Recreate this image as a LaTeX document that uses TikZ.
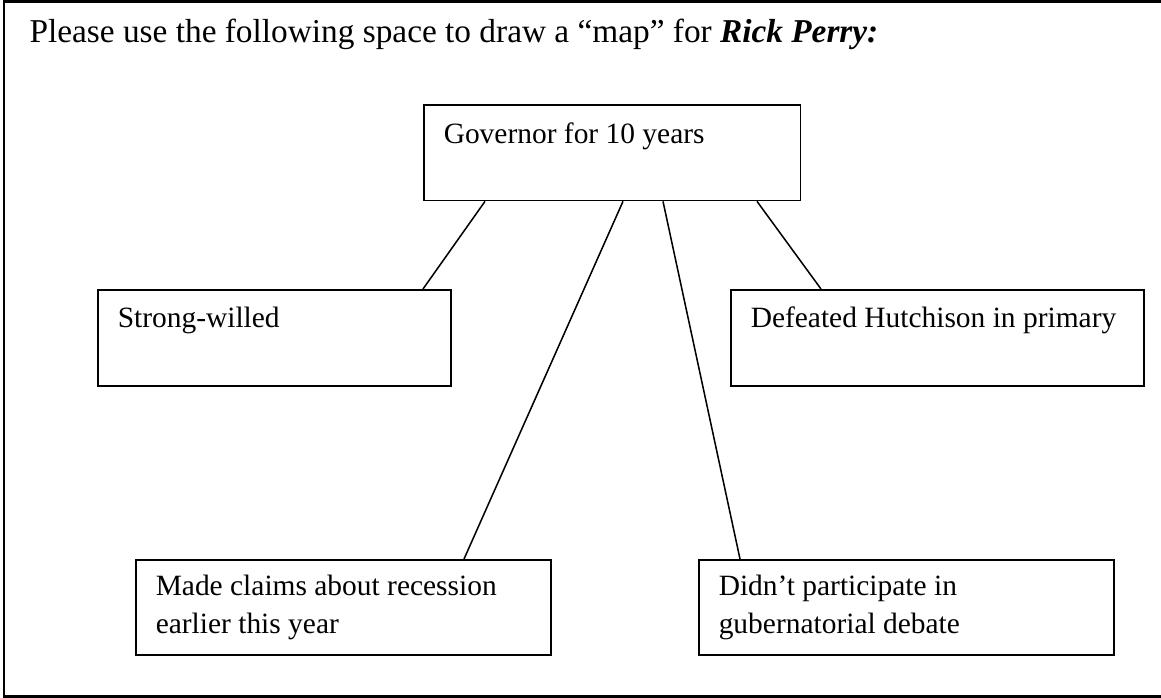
\documentclass[tikz,border=0pt]{standalone}
\usepackage{fontspec}
\setmainfont{Liberation Serif}
\usetikzlibrary{calc}
\tikzset{
  mapbox/.style={draw, line width=0.55pt, rectangle, anchor=north west, align=flush left,
    inner xsep=7.2pt, inner ysep=0pt, font=\fontsize{10.6pt}{13.7pt}\selectfont,
    execute at begin node={\spaceskip=0pt\xspaceskip=0pt\hyphenpenalty=10000}},
  onerow/.style={text height=13.7pt, text depth=20.9pt},
  tworow/.style={text height=13pt, text depth=21.2pt},
  title/.style={anchor=base west, inner sep=0pt, font=\fontsize{12pt}{14pt}\selectfont},
  link/.style={line width=0.55pt},
  frame/.style={line width=1pt}
}

\begin{document}
\begin{tikzpicture}[x=0.36pt, y=-0.36pt]
  \useasboundingbox (0,0) rectangle (1161,698);
  \draw[frame] (4,1.5) rectangle (1180,696.5);

  \node[title] (head) at (29,43) {Please use the following space to draw a “map” for \textbf{\textit{Rick Perry:}}};

  \node[mapbox, text width=121.3pt, text height=14pt, text depth=20.5pt] (gov) at (423,104) {Governor for 10 years};
  \node[mapbox, onerow, text width=112.7pt] (will) at (97,289) {Strong-willed};
  \node[mapbox, onerow, text width=134.3pt] (beat) at (730,289) {Defeated Hutchison in primary};
  \node[mapbox, tworow, text width=135pt] (claim) at (135,559) {Made claims about recession\\earlier this year};
  \node[mapbox, tworow, text width=135pt] (debate) at (698,559) {Didn’t participate in\\gubernatorial debate};

  \draw[link] ($(gov.south west)+(62,0)$) -- ($(will.north west)+(326,0)$);
  \draw[link] ($(gov.south west)+(200,0)$) -- ($(claim.north west)+(329,0)$);
  \draw[link] ($(gov.south west)+(240,0)$) -- ($(debate.north west)+(42,0)$);
  \draw[link] ($(gov.south west)+(334,0)$) -- ($(beat.north west)+(91,0)$);
\end{tikzpicture}
\end{document}
